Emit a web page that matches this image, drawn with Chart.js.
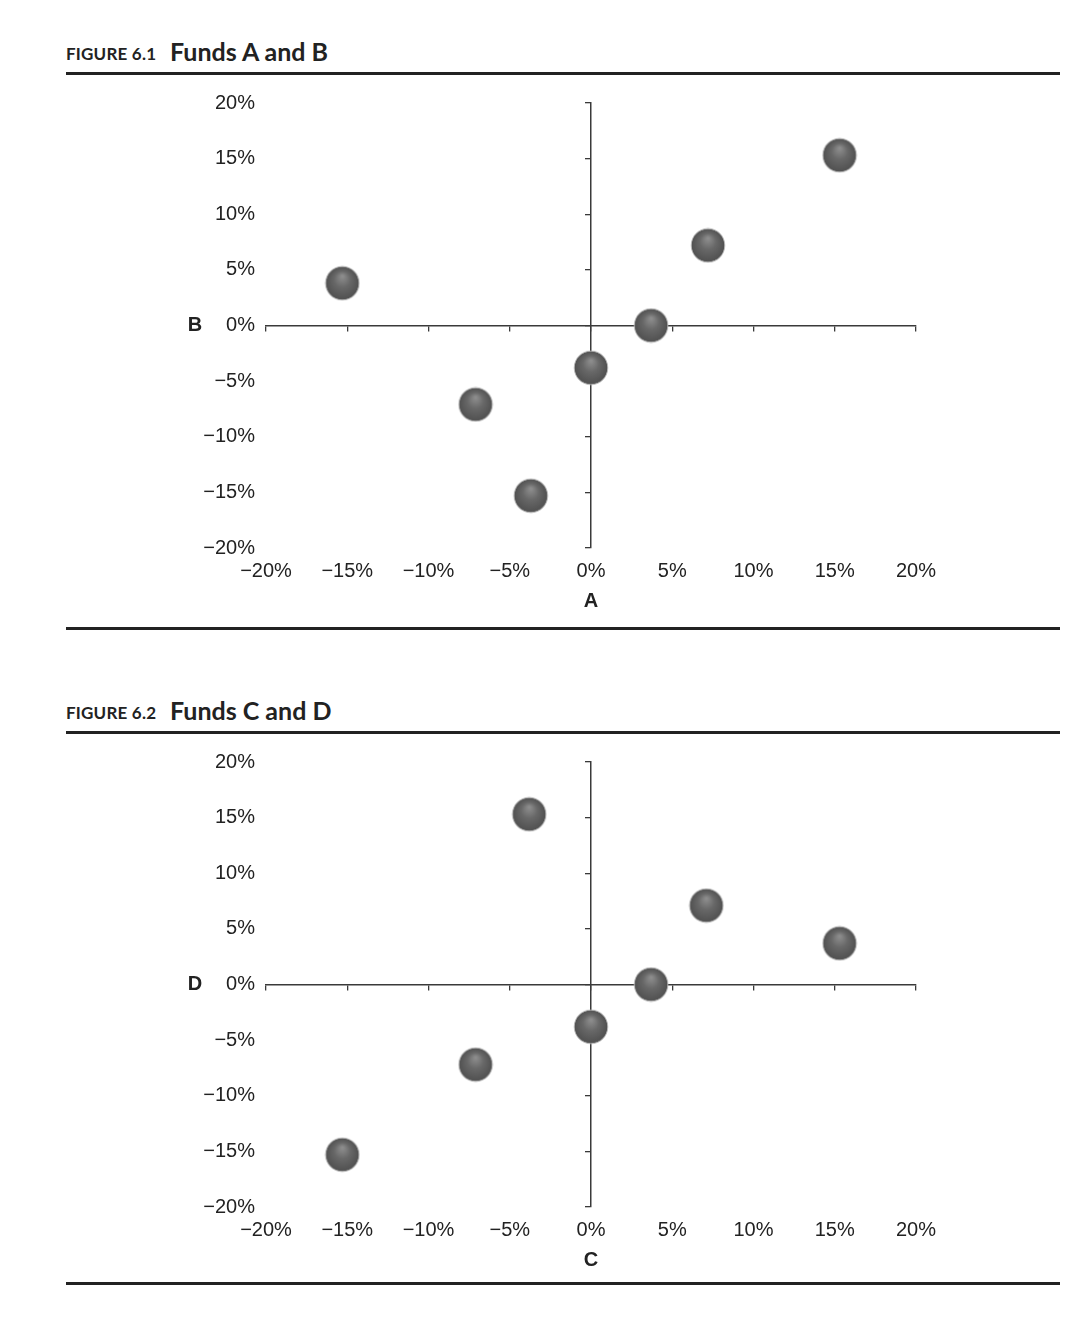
<!DOCTYPE html>
<html>
<head>
<meta charset="utf-8">
<script src="https://cdn.jsdelivr.net/npm/chart.js@4/dist/chart.umd.min.js"></script>
<style>
  html, body { margin: 0; padding: 0; background: #fff; }
  body { width: 1084px; height: 1322px; position: relative; overflow: hidden; }
  .fig-label { position: absolute; left: 66px; font-family: Lato, "Open Sans", sans-serif; font-weight: 700; font-size: 17px; color: #222; letter-spacing: 0.2px; }
  .fig-title { position: absolute; left: 170px; font-family: Lato, "Open Sans", sans-serif; font-weight: 700; font-size: 25px; color: #222; }
  .rule { position: absolute; left: 66px; width: 994px; height: 2.5px; background: #222; }
  canvas { position: absolute; left: 180px; }
</style>
</head>
<body>

<div class="fig-label" style="top:43px">FIGURE 6.1</div>
<div class="fig-title" style="top:36px">Funds A and B</div>
<div class="rule" style="top:72px"></div>
<canvas id="chartAB" width="767" height="533" style="top:80px;width:767px;height:533px"></canvas>
<div class="rule" style="top:627px"></div>

<div class="fig-label" style="top:702px">FIGURE 6.2</div>
<div class="fig-title" style="top:695px">Funds C and D</div>
<div class="rule" style="top:731px"></div>
<canvas id="chartCD" width="767" height="533" style="top:739px;width:767px;height:533px"></canvas>
<div class="rule" style="top:1282px"></div>

<script>
// Returns in percent
const fundA = [-15.3, -7.1, -3.7, 0, 3.7, 7.2, 15.3];
const fundB = [3.8, -7.1, -15.3, -3.8, 0, 7.2, 15.3];

const fundC = [-15.3, -7.1, 0, 3.7, 7.1, 15.3, -3.8];
const fundD = [-15.3, -7.2, -3.8, 0, 7.1, 3.7, 15.3];

// Tick values shared by both axes of both charts
const tickValues = [-20, -15, -10, -5, 0, 5, 10, 15, 20];

const axisColor = '#3a3a3a';
const labelFont = { family: '"Liberation Sans", Arial, sans-serif', size: 20 };

// Format tick labels with a real minus sign
function pct(v) {
    if (v < 0) return '\u2212' + (-v) + '%';
    return v + '%';
}

// Small shaded sphere used as the point style
function makeSphere() {
    const size = 36;
    const c = document.createElement('canvas');
    c.width = size;
    c.height = size;
    const g = c.getContext('2d');
    const r = 16.8;
    const cx = size / 2, cy = size / 2;

    const grad = g.createRadialGradient(cx, cy - 7, 1, cx, cy, r);
    grad.addColorStop(0, '#8c8c8c');
    grad.addColorStop(0.45, '#686868');
    grad.addColorStop(1, '#505050');
    g.beginPath();
    g.arc(cx, cy, r, 0, Math.PI * 2);
    g.fillStyle = grad;
    g.fill();
    g.lineWidth = 1;
    g.strokeStyle = 'rgba(190,190,190,0.9)';
    g.stroke();
    return c;
}
const sphere = makeSphere();

// Draw the horizontal letter for the y axis at the 0 level
const yLetterPlugin = {
    id: 'yLetter',
    afterDraw(chart, args, opts) {
        const ctx = chart.ctx;
        ctx.save();
        ctx.font = 'bold 20px "Liberation Sans", Arial, sans-serif';
        ctx.fillStyle = '#222';
        ctx.textAlign = 'center';
        ctx.textBaseline = 'middle';
        ctx.fillText(opts.text, chart.chartArea.left - 71, chart.scales.y.getPixelForValue(0));
        ctx.restore();
    }
};

function setTicks(scale) {
    scale.ticks = tickValues.map(v => ({ value: v }));
}

function createChart(id, xs, ys, xName, yName) {
    const points = xs.map((x, i) => ({ x: x, y: ys[i] }));

    return new Chart(document.getElementById(id), {
        type: 'scatter',
        data: {
            datasets: [{
                data: points,
                pointStyle: sphere,
                pointRadius: 17,
                pointHoverRadius: 17
            }]
        },
        plugins: [yLetterPlugin],
        options: {
            responsive: false,
            animation: false,
            layout: { padding: { top: 21, right: 30, bottom: 0, left: 0 } },
            plugins: {
                legend: { display: false },
                tooltip: { enabled: false },
                yLetter: { text: yName }
            },
            scales: {
                // outer axes: labels only
                x: {
                    type: 'linear', position: 'bottom', min: -20, max: 20,
                    afterBuildTicks: setTicks,
                    afterFit: s => { s.height = 65; },
                    grid: { display: false, drawTicks: false },
                    border: { display: false },
                    ticks: { font: labelFont, color: '#222', padding: 11, callback: pct, maxRotation: 0, autoSkip: false },
                    title: { display: true, text: xName, color: '#222', padding: { top: 0, bottom: 0 },
                             font: { family: '"Liberation Sans", Arial, sans-serif', size: 20, weight: 'bold' } }
                },
                y: {
                    type: 'linear', position: 'left', min: -20, max: 20,
                    afterBuildTicks: setTicks,
                    afterFit: s => { s.width = 86; },
                    grid: { display: false, drawTicks: false },
                    border: { display: false },
                    ticks: { font: labelFont, color: '#222', padding: 11, callback: pct, autoSkip: false }
                },
                // crossing axes at zero: line and tick marks only
                x0: {
                    type: 'linear', axis: 'x', position: { y: 0 }, min: -20, max: 20,
                    afterBuildTicks: setTicks,
                    afterFit: s => { s.height = 0; },
                    grid: { drawOnChartArea: false, drawTicks: true, tickLength: 5, color: axisColor, lineWidth: 1.3 },
                    border: { display: true, color: axisColor, width: 1.5 },
                    ticks: { display: false }
                },
                y0: {
                    type: 'linear', axis: 'y', position: { x: 0 }, min: -20, max: 20,
                    afterBuildTicks: setTicks,
                    afterFit: s => { s.width = 0; },
                    grid: { drawOnChartArea: false, drawTicks: true, tickLength: 5, color: axisColor, lineWidth: 1.3 },
                    border: { display: true, color: axisColor, width: 1.5 },
                    ticks: { display: false }
                }
            }
        }
    });
}

createChart('chartAB', fundA, fundB, 'A', 'B');
createChart('chartCD', fundC, fundD, 'C', 'D');
</script>
</body>
</html>
